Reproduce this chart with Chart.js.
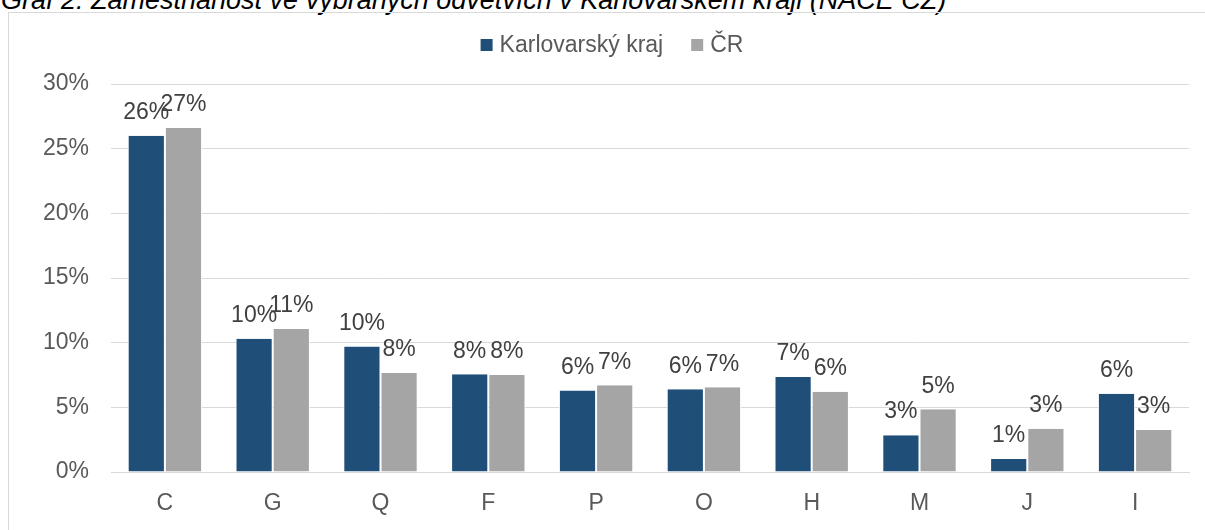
<!DOCTYPE html>
<html>
<head>
<meta charset="utf-8">
<script src="https://cdn.jsdelivr.net/npm/chart.js@4"></script>
<style>
    body { margin: 0; background: #fff; overflow: hidden; width: 1205px; height: 530px; position: relative; }
    #title {
        position: absolute; left: 1px; top: -16px; white-space: nowrap;
        font: italic 27px 'Liberation Sans', Arial, sans-serif; line-height: 32px; color: #000;
    }
    #box {
        position: absolute; left: 8px; top: 12px; width: 1197px; height: 518px;
        border-left: 1px solid #d9d9d9; border-top: 1px solid #d9d9d9; box-sizing: border-box;
    }
</style>
</head>
<body>
<div id="title">Graf 2: Zaměstnanost ve vybraných odvětvích v Karlovarském kraji (NACE CZ)</div>
<div id="box"><canvas id="chart"></canvas></div>
<script>
    // ─── Data ─────────────────────────────────────────────────────────────────
    const categories = ['C', 'G', 'Q', 'F', 'P', 'O', 'H', 'M', 'J', 'I'];
    const karlovarsky = [26.0, 10.3, 9.7, 7.55, 6.3, 6.4, 7.35, 2.85, 1.0, 6.05];
    const cr = [26.6, 11.05, 7.65, 7.5, 6.7, 6.55, 6.2, 4.85, 3.35, 3.25];
    const yTicks = [0, 5, 10, 15, 20, 25, 30];

    const COLORS = {
        blue: '#1f4e79',
        gray: '#a5a5a5',
        grid: '#d9d9d9',
        tick: '#595959',
        label: '#404040',
    };
    const FONT = "'Liberation Sans', Arial, sans-serif";
    const FONT_SIZE = 23;

    // value labels above the bars
    const barLabels = {
        id: 'barLabels',
        afterDatasetsDraw(chart) {
            const ctx = chart.ctx;
            ctx.save();
            ctx.font = `${FONT_SIZE}px ${FONT}`;
            ctx.fillStyle = COLORS.label;
            ctx.textAlign = 'center';
            ctx.textBaseline = 'middle';
            chart.data.datasets.forEach((ds, i) => {
                chart.getDatasetMeta(i).data.forEach((bar, j) => {
                    ctx.fillText(Math.round(ds.data[j]) + '%', bar.x, bar.y - 23);
                });
            });
            ctx.restore();
        }
    };

    // Excel-like legend: small squares, centred at the top
    const topLegend = {
        id: 'topLegend',
        afterDraw(chart) {
            const ctx = chart.ctx;
            const box = 12, gap = 7, itemGap = 28, y = 32;
            ctx.save();
            ctx.font = `${FONT_SIZE}px ${FONT}`;
            ctx.textBaseline = 'middle';
            ctx.textAlign = 'left';
            const items = chart.data.datasets.map(ds => ({
                text: ds.label, color: ds.backgroundColor, w: ctx.measureText(ds.label).width
            }));
            const total = items.reduce((s, it) => s + box + gap + it.w, 0) + itemGap * (items.length - 1);
            let x = chart.width / 2 + 5 - total / 2;
            items.forEach(it => {
                ctx.fillStyle = it.color;
                ctx.fillRect(x, y - box / 2, box, box);
                ctx.fillStyle = COLORS.tick;
                ctx.fillText(it.text, x + box + gap, y + 1);
                x += box + gap + it.w + itemGap;
            });
            ctx.restore();
        }
    };

    new Chart(document.getElementById('chart'), {
        type: 'bar',
        data: {
            labels: categories,
            datasets: [
                { label: 'Karlovarský kraj', data: karlovarsky, backgroundColor: COLORS.blue },
                { label: 'ČR', data: cr, backgroundColor: COLORS.gray }
            ]
        },
        options: {
            responsive: true,
            maintainAspectRatio: false,
            animation: false,
            datasets: {
                bar: {
                    categoryPercentage: 0.69,
                    barPercentage: 1,
                    borderColor: '#fff',
                    borderWidth: { left: 1, right: 1, top: 0, bottom: 0 },
                    borderSkipped: false,
                }
            },
            layout: { padding: { top: 71, right: 16, bottom: 0, left: 0 } },
            plugins: {
                legend: { display: false },
                tooltip: { enabled: false }
            },
            scales: {
                x: {
                    afterFit(scale) { scale.height = 58; },
                    grid: { display: false, drawTicks: false },
                    border: { color: COLORS.grid },
                    ticks: { color: COLORS.tick, padding: 18, font: { size: FONT_SIZE, family: FONT } }
                },
                y: {
                    min: 0,
                    max: 30,
                    afterFit(scale) { scale.width = 102; },
                    afterBuildTicks(scale) { scale.ticks = yTicks.map(v => ({ value: v })); },
                    grid: { color: COLORS.grid, drawTicks: false },
                    border: { display: false },
                    ticks: {
                        color: COLORS.tick,
                        padding: 22,
                        font: { size: FONT_SIZE, family: FONT },
                        callback: v => v + '%'
                    }
                }
            }
        },
        plugins: [barLabels, topLegend]
    });
</script>
</body>
</html>
